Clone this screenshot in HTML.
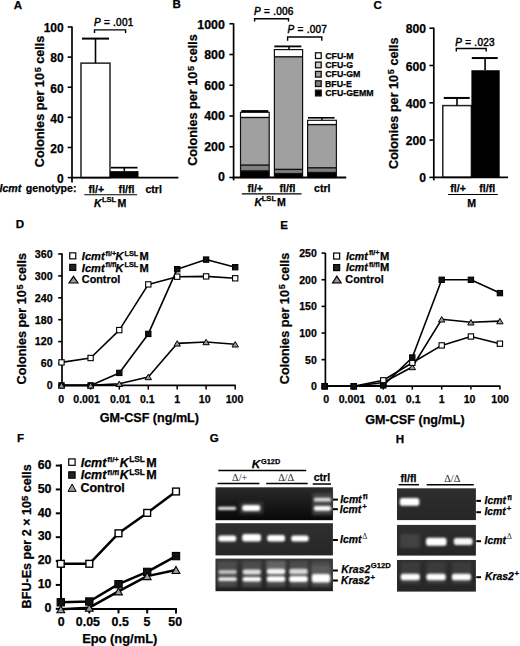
<!DOCTYPE html>
<html><head><meta charset="utf-8"><style>
html,body{margin:0;padding:0;background:#fff;}
svg{display:block;}
text{font-family:"Liberation Sans", sans-serif;stroke:#000;stroke-width:0.25px;}
</style></head><body>
<svg width="520" height="646" viewBox="0 0 520 646">
<defs>
<filter id="bl" x="-30%" y="-150%" width="160%" height="400%"><feGaussianBlur stdDeviation="0.85"/></filter>
<filter id="bl3" x="-30%" y="-30%" width="160%" height="160%"><feGaussianBlur stdDeviation="1.8"/></filter>
</defs>
<rect width="520" height="646" fill="#fff"/>
<text x="13.71" y="9.10" font-size="11.6" font-weight="bold" fill="#000" >A</text>
<line x1="72.00" y1="26.50" x2="72.00" y2="182.60" stroke="#000" stroke-width="1.7" stroke-linecap="butt"/>
<line x1="67.70" y1="177.60" x2="72.00" y2="177.60" stroke="#000" stroke-width="1.6" stroke-linecap="butt"/>
<text x="57.02" y="182.90" font-size="12.0" font-weight="bold" fill="#000">0</text>
<line x1="67.70" y1="147.48" x2="72.00" y2="147.48" stroke="#000" stroke-width="1.6" stroke-linecap="butt"/>
<text x="50.34" y="152.78" font-size="12.0" font-weight="bold" fill="#000">20</text>
<line x1="67.70" y1="117.36" x2="72.00" y2="117.36" stroke="#000" stroke-width="1.6" stroke-linecap="butt"/>
<text x="50.34" y="122.66" font-size="12.0" font-weight="bold" fill="#000">40</text>
<line x1="67.70" y1="87.24" x2="72.00" y2="87.24" stroke="#000" stroke-width="1.6" stroke-linecap="butt"/>
<text x="50.34" y="92.54" font-size="12.0" font-weight="bold" fill="#000">60</text>
<line x1="67.70" y1="57.12" x2="72.00" y2="57.12" stroke="#000" stroke-width="1.6" stroke-linecap="butt"/>
<text x="50.34" y="62.42" font-size="12.0" font-weight="bold" fill="#000">80</text>
<line x1="67.70" y1="27.00" x2="72.00" y2="27.00" stroke="#000" stroke-width="1.6" stroke-linecap="butt"/>
<text x="43.67" y="32.30" font-size="12.0" font-weight="bold" fill="#000">100</text>
<text transform="translate(44.00,167.20) rotate(-90)" x="0" y="0" font-size="12.65" font-weight="bold">Colonies per 10<tspan font-size="9.11" dy="-3.16" dx="0.7">5</tspan><tspan dy="3.16"> cells</tspan></text>
<rect x="81.00" y="63.14" width="29.00" height="114.46" fill="#fff" stroke="#222" stroke-width="1.5" />
<line x1="95.50" y1="38.60" x2="95.50" y2="63.14" stroke="#000" stroke-width="1.6" stroke-linecap="butt"/>
<line x1="82.00" y1="38.60" x2="109.00" y2="38.60" stroke="#000" stroke-width="2.0" stroke-linecap="butt"/>
<rect x="110.00" y="171.12" width="28.50" height="6.48" fill="#000" stroke="none" stroke-width="1" />
<line x1="124.30" y1="167.66" x2="124.30" y2="171.12" stroke="#000" stroke-width="1.5" stroke-linecap="butt"/>
<line x1="111.00" y1="167.66" x2="137.50" y2="167.66" stroke="#000" stroke-width="1.7" stroke-linecap="butt"/>
<line x1="71.20" y1="177.60" x2="178.40" y2="177.60" stroke="#000" stroke-width="1.8" stroke-linecap="butt"/>
<path d="M94.50,33.00 V29.90 H125.60 V33.00" stroke="#000" stroke-width="1.4" fill="none" />
<text x="94.00" y="25.80" font-size="10.0" font-weight="normal" letter-spacing="0.25" style="stroke-width:0.45px"><tspan font-style="italic">P</tspan> = .001</text>
<text x="88.52" y="192.80" font-size="10.6" font-weight="bold" fill="#000" >fl/+</text>
<text x="118.62" y="192.80" font-size="10.6" font-weight="bold" fill="#000" >fl/fl</text>
<text x="145.39" y="192.80" font-size="10.6" font-weight="bold" fill="#000" >ctrl</text>
<line x1="84.30" y1="194.80" x2="137.10" y2="194.80" stroke="#000" stroke-width="1.1" stroke-linecap="butt"/>
<text x="94.01" y="207.30" font-size="10.6" font-weight="bold" font-style="italic" fill="#000" >K</text>
<text x="101.89" y="202.40" font-size="7.6" font-weight="bold" fill="#000" >LSL</text>
<text x="117.39" y="207.30" font-size="10.6" font-weight="bold" fill="#000" >M</text>
<text x="-0.49" y="192.00" font-size="10.6" font-weight="bold" font-style="italic" fill="#000" >Icmt</text>
<text x="25.87" y="192.00" font-size="10.6" font-weight="bold" fill="#000" >genotype:</text>
<text x="172.62" y="8.40" font-size="11.6" font-weight="bold" fill="#000" >B</text>
<line x1="233.60" y1="23.30" x2="233.60" y2="180.40" stroke="#000" stroke-width="1.7" stroke-linecap="butt"/>
<line x1="229.40" y1="177.50" x2="233.60" y2="177.50" stroke="#000" stroke-width="1.6" stroke-linecap="butt"/>
<text x="218.01" y="181.24" font-size="12.4" font-weight="bold" fill="#000">0</text>
<line x1="229.40" y1="146.75" x2="233.60" y2="146.75" stroke="#000" stroke-width="1.6" stroke-linecap="butt"/>
<text x="204.22" y="150.78" font-size="12.4" font-weight="bold" fill="#000">200</text>
<line x1="229.40" y1="116.00" x2="233.60" y2="116.00" stroke="#000" stroke-width="1.6" stroke-linecap="butt"/>
<text x="204.22" y="120.32" font-size="12.4" font-weight="bold" fill="#000">400</text>
<line x1="229.40" y1="85.25" x2="233.60" y2="85.25" stroke="#000" stroke-width="1.6" stroke-linecap="butt"/>
<text x="204.22" y="89.86" font-size="12.4" font-weight="bold" fill="#000">600</text>
<line x1="229.40" y1="54.50" x2="233.60" y2="54.50" stroke="#000" stroke-width="1.6" stroke-linecap="butt"/>
<text x="204.22" y="59.40" font-size="12.4" font-weight="bold" fill="#000">800</text>
<line x1="229.40" y1="23.75" x2="233.60" y2="23.75" stroke="#000" stroke-width="1.6" stroke-linecap="butt"/>
<text x="197.32" y="28.94" font-size="12.4" font-weight="bold" fill="#000">1000</text>
<text transform="translate(196.90,165.80) rotate(-90)" x="0" y="0" font-size="12.65" font-weight="bold">Colonies per 10<tspan font-size="9.11" dy="-3.16" dx="0.7">5</tspan><tspan dy="3.16"> cells</tspan></text>
<rect x="240.50" y="170.90" width="28.70" height="6.60" fill="#000000" stroke="none" stroke-width="1" />
<rect x="240.50" y="165.10" width="28.70" height="5.80" fill="#808080" stroke="none" stroke-width="1" />
<rect x="240.50" y="117.50" width="28.70" height="47.60" fill="#a0a0a0" stroke="none" stroke-width="1" />
<rect x="240.50" y="112.30" width="28.70" height="5.20" fill="#ffffff" stroke="none" stroke-width="1" />
<line x1="240.50" y1="170.90" x2="269.20" y2="170.90" stroke="#111" stroke-width="1.4" stroke-linecap="butt"/>
<line x1="240.50" y1="165.10" x2="269.20" y2="165.10" stroke="#111" stroke-width="1.4" stroke-linecap="butt"/>
<line x1="240.50" y1="117.50" x2="269.20" y2="117.50" stroke="#111" stroke-width="1.4" stroke-linecap="butt"/>
<rect x="240.50" y="112.30" width="28.70" height="65.20" fill="none" stroke="#111" stroke-width="1.2" />
<line x1="241.30" y1="111.10" x2="268.30" y2="111.10" stroke="#000" stroke-width="2.0" stroke-linecap="butt"/>
<rect x="274.40" y="173.60" width="28.20" height="3.90" fill="#000000" stroke="none" stroke-width="1" />
<rect x="274.40" y="169.40" width="28.20" height="4.20" fill="#808080" stroke="none" stroke-width="1" />
<rect x="274.40" y="56.80" width="28.20" height="112.60" fill="#a0a0a0" stroke="none" stroke-width="1" />
<rect x="274.40" y="49.60" width="28.20" height="7.20" fill="#ffffff" stroke="none" stroke-width="1" />
<line x1="274.40" y1="173.60" x2="302.60" y2="173.60" stroke="#111" stroke-width="1.4" stroke-linecap="butt"/>
<line x1="274.40" y1="169.40" x2="302.60" y2="169.40" stroke="#111" stroke-width="1.4" stroke-linecap="butt"/>
<line x1="274.40" y1="56.80" x2="302.60" y2="56.80" stroke="#111" stroke-width="1.4" stroke-linecap="butt"/>
<rect x="274.40" y="49.60" width="28.20" height="127.90" fill="none" stroke="#111" stroke-width="1.2" />
<line x1="289.00" y1="46.40" x2="289.00" y2="49.80" stroke="#000" stroke-width="1.5" stroke-linecap="butt"/>
<line x1="274.30" y1="46.40" x2="301.30" y2="46.40" stroke="#000" stroke-width="1.8" stroke-linecap="butt"/>
<rect x="307.60" y="172.50" width="28.80" height="5.00" fill="#000000" stroke="none" stroke-width="1" />
<rect x="307.60" y="167.80" width="28.80" height="4.70" fill="#808080" stroke="none" stroke-width="1" />
<rect x="307.60" y="124.60" width="28.80" height="43.20" fill="#a0a0a0" stroke="none" stroke-width="1" />
<rect x="307.60" y="120.30" width="28.80" height="4.30" fill="#ffffff" stroke="none" stroke-width="1" />
<line x1="307.60" y1="172.50" x2="336.40" y2="172.50" stroke="#111" stroke-width="1.4" stroke-linecap="butt"/>
<line x1="307.60" y1="167.80" x2="336.40" y2="167.80" stroke="#111" stroke-width="1.4" stroke-linecap="butt"/>
<line x1="307.60" y1="124.60" x2="336.40" y2="124.60" stroke="#111" stroke-width="1.4" stroke-linecap="butt"/>
<rect x="307.60" y="120.30" width="28.80" height="57.20" fill="none" stroke="#111" stroke-width="1.2" />
<line x1="322.00" y1="117.80" x2="322.00" y2="120.30" stroke="#000" stroke-width="1.4" stroke-linecap="butt"/>
<line x1="308.00" y1="117.80" x2="334.60" y2="117.80" stroke="#000" stroke-width="1.6" stroke-linecap="butt"/>
<line x1="232.80" y1="177.50" x2="346.20" y2="177.50" stroke="#000" stroke-width="1.8" stroke-linecap="butt"/>
<path d="M254.60,21.60 V18.80 H288.50 V21.60" stroke="#000" stroke-width="1.4" fill="none" />
<path d="M287.60,40.80 V37.00 H321.80 V40.80" stroke="#000" stroke-width="1.4" fill="none" />
<text x="254.10" y="15.40" font-size="10.0" font-weight="normal" letter-spacing="0.25" style="stroke-width:0.45px"><tspan font-style="italic">P</tspan> = .006</text>
<text x="287.60" y="33.30" font-size="10.0" font-weight="normal" letter-spacing="0.25" style="stroke-width:0.45px"><tspan font-style="italic">P</tspan> = .007</text>
<rect x="315.50" y="52.80" width="5.70" height="5.70" fill="#ffffff" stroke="#111" stroke-width="1.3" />
<text x="325.24" y="58.70" font-size="8.8" font-weight="bold" fill="#000" >CFU-M</text>
<rect x="315.50" y="62.10" width="5.70" height="5.70" fill="#cccccc" stroke="#111" stroke-width="1.3" />
<text x="325.24" y="68.00" font-size="8.8" font-weight="bold" fill="#000" >CFU-G</text>
<rect x="315.50" y="71.40" width="5.70" height="5.70" fill="#a0a0a0" stroke="#111" stroke-width="1.3" />
<text x="325.24" y="77.30" font-size="8.8" font-weight="bold" fill="#000" >CFU-GM</text>
<rect x="315.50" y="80.80" width="5.70" height="5.70" fill="#808080" stroke="#111" stroke-width="1.3" />
<text x="325.01" y="86.70" font-size="8.8" font-weight="bold" fill="#000" >BFU-E</text>
<rect x="315.50" y="90.20" width="5.70" height="5.70" fill="#000000" stroke="#111" stroke-width="1.3" />
<text x="325.24" y="96.10" font-size="8.8" font-weight="bold" fill="#000" >CFU-GEMM</text>
<text x="247.42" y="191.60" font-size="10.6" font-weight="bold" fill="#000" >fl/+</text>
<text x="279.52" y="191.60" font-size="10.6" font-weight="bold" fill="#000" >fl/fl</text>
<text x="313.99" y="191.60" font-size="10.6" font-weight="bold" fill="#000" >ctrl</text>
<line x1="241.80" y1="193.90" x2="301.50" y2="193.90" stroke="#000" stroke-width="1.1" stroke-linecap="butt"/>
<text x="254.51" y="205.90" font-size="10.6" font-weight="bold" font-style="italic" fill="#000" >K</text>
<text x="261.69" y="201.00" font-size="7.6" font-weight="bold" fill="#000" >LSL</text>
<text x="277.09" y="205.90" font-size="10.6" font-weight="bold" fill="#000" >M</text>
<text x="373.52" y="9.30" font-size="11.6" font-weight="bold" fill="#000" >C</text>
<line x1="433.80" y1="27.60" x2="433.80" y2="180.40" stroke="#000" stroke-width="1.7" stroke-linecap="butt"/>
<line x1="429.40" y1="177.40" x2="433.80" y2="177.40" stroke="#000" stroke-width="1.6" stroke-linecap="butt"/>
<text x="419.32" y="182.47" font-size="12.2" font-weight="bold" fill="#000">0</text>
<line x1="429.40" y1="140.10" x2="433.80" y2="140.10" stroke="#000" stroke-width="1.6" stroke-linecap="butt"/>
<text x="405.75" y="145.17" font-size="12.2" font-weight="bold" fill="#000">200</text>
<line x1="429.40" y1="102.80" x2="433.80" y2="102.80" stroke="#000" stroke-width="1.6" stroke-linecap="butt"/>
<text x="405.75" y="107.87" font-size="12.2" font-weight="bold" fill="#000">400</text>
<line x1="429.40" y1="65.50" x2="433.80" y2="65.50" stroke="#000" stroke-width="1.6" stroke-linecap="butt"/>
<text x="405.75" y="70.57" font-size="12.2" font-weight="bold" fill="#000">600</text>
<line x1="429.40" y1="28.20" x2="433.80" y2="28.20" stroke="#000" stroke-width="1.6" stroke-linecap="butt"/>
<text x="405.75" y="33.27" font-size="12.2" font-weight="bold" fill="#000">800</text>
<text transform="translate(397.60,169.00) rotate(-90)" x="0" y="0" font-size="12.65" font-weight="bold">Colonies per 10<tspan font-size="9.11" dy="-3.16" dx="0.7">5</tspan><tspan dy="3.16"> cells</tspan></text>
<rect x="442.80" y="105.60" width="28.60" height="71.80" fill="#fff" stroke="#222" stroke-width="1.5" />
<line x1="457.00" y1="97.95" x2="457.00" y2="105.60" stroke="#000" stroke-width="1.6" stroke-linecap="butt"/>
<line x1="443.80" y1="97.95" x2="469.70" y2="97.95" stroke="#000" stroke-width="2.0" stroke-linecap="butt"/>
<rect x="471.40" y="70.24" width="28.30" height="107.16" fill="#000" stroke="none" stroke-width="1" />
<line x1="485.10" y1="58.04" x2="485.10" y2="70.24" stroke="#000" stroke-width="1.6" stroke-linecap="butt"/>
<line x1="471.80" y1="58.04" x2="497.70" y2="58.04" stroke="#000" stroke-width="2.0" stroke-linecap="butt"/>
<line x1="433.00" y1="177.40" x2="508.00" y2="177.40" stroke="#000" stroke-width="1.8" stroke-linecap="butt"/>
<path d="M456.30,51.50 V48.50 H486.20 V51.50" stroke="#000" stroke-width="1.4" fill="none" />
<text x="455.30" y="46.20" font-size="10.0" font-weight="normal" letter-spacing="0.25" style="stroke-width:0.45px"><tspan font-style="italic">P</tspan> = .023</text>
<text x="450.32" y="192.00" font-size="10.6" font-weight="bold" fill="#000" >fl/+</text>
<text x="479.22" y="192.00" font-size="10.6" font-weight="bold" fill="#000" >fl/fl</text>
<line x1="448.10" y1="194.50" x2="497.90" y2="194.50" stroke="#000" stroke-width="1.1" stroke-linecap="butt"/>
<text x="467.29" y="207.30" font-size="10.6" font-weight="bold" fill="#000" >M</text>
<text x="15.72" y="228.30" font-size="11.6" font-weight="bold" fill="#000" >D</text>
<line x1="62.00" y1="253.20" x2="62.00" y2="386.20" stroke="#000" stroke-width="1.7" stroke-linecap="butt"/>
<line x1="58.20" y1="385.40" x2="62.00" y2="385.40" stroke="#000" stroke-width="1.6" stroke-linecap="butt"/>
<text x="46.69" y="389.23" font-size="10.7" font-weight="bold" fill="#000">0</text>
<line x1="58.20" y1="363.50" x2="62.00" y2="363.50" stroke="#000" stroke-width="1.6" stroke-linecap="butt"/>
<text x="40.74" y="367.33" font-size="10.7" font-weight="bold" fill="#000">60</text>
<line x1="58.20" y1="341.60" x2="62.00" y2="341.60" stroke="#000" stroke-width="1.6" stroke-linecap="butt"/>
<text x="34.79" y="345.43" font-size="10.7" font-weight="bold" fill="#000">120</text>
<line x1="58.20" y1="319.70" x2="62.00" y2="319.70" stroke="#000" stroke-width="1.6" stroke-linecap="butt"/>
<text x="34.79" y="323.53" font-size="10.7" font-weight="bold" fill="#000">180</text>
<line x1="58.20" y1="297.80" x2="62.00" y2="297.80" stroke="#000" stroke-width="1.6" stroke-linecap="butt"/>
<text x="34.79" y="301.63" font-size="10.7" font-weight="bold" fill="#000">240</text>
<line x1="58.20" y1="275.90" x2="62.00" y2="275.90" stroke="#000" stroke-width="1.6" stroke-linecap="butt"/>
<text x="34.79" y="279.73" font-size="10.7" font-weight="bold" fill="#000">300</text>
<line x1="58.20" y1="254.00" x2="62.00" y2="254.00" stroke="#000" stroke-width="1.6" stroke-linecap="butt"/>
<text x="34.79" y="257.83" font-size="10.7" font-weight="bold" fill="#000">360</text>
<text transform="translate(25.80,384.40) rotate(-90)" x="0" y="0" font-size="12.65" font-weight="bold">Colonies per 10<tspan font-size="9.11" dy="-3.16" dx="0.7">5</tspan><tspan dy="3.16"> cells</tspan></text>
<line x1="61.20" y1="385.40" x2="235.80" y2="385.40" stroke="#000" stroke-width="1.7" stroke-linecap="butt"/>
<line x1="90.60" y1="385.40" x2="90.60" y2="389.60" stroke="#000" stroke-width="1.5" stroke-linecap="butt"/>
<line x1="119.30" y1="385.40" x2="119.30" y2="389.60" stroke="#000" stroke-width="1.5" stroke-linecap="butt"/>
<line x1="148.30" y1="385.40" x2="148.30" y2="389.60" stroke="#000" stroke-width="1.5" stroke-linecap="butt"/>
<line x1="177.20" y1="385.40" x2="177.20" y2="389.60" stroke="#000" stroke-width="1.5" stroke-linecap="butt"/>
<line x1="206.10" y1="385.40" x2="206.10" y2="389.60" stroke="#000" stroke-width="1.5" stroke-linecap="butt"/>
<line x1="235.20" y1="385.40" x2="235.20" y2="389.60" stroke="#000" stroke-width="1.5" stroke-linecap="butt"/>
<text x="58.36" y="402.50" font-size="10.6" font-weight="bold" fill="#000">0</text>
<text x="73.27" y="402.50" font-size="10.6" font-weight="bold" fill="#000">0.001</text>
<text x="110.12" y="402.50" font-size="10.6" font-weight="bold" fill="#000">0.01</text>
<text x="139.97" y="402.50" font-size="10.6" font-weight="bold" fill="#000">0.1</text>
<text x="174.17" y="402.50" font-size="10.6" font-weight="bold" fill="#000">1</text>
<text x="198.79" y="402.50" font-size="10.6" font-weight="bold" fill="#000">10</text>
<text x="225.64" y="402.50" font-size="10.6" font-weight="bold" fill="#000">100</text>
<text x="99.68" y="422.20" font-size="12.6" font-weight="bold" fill="#000" >GM-CSF (ng/mL)</text>
<path d="M61.50,385.40 L90.60,385.40 L119.30,383.80 L148.30,377.00 L177.20,343.40 L206.10,342.00 L235.20,344.30" stroke="#000" stroke-width="1.6" fill="none" stroke-linejoin="round"/>
<path d="M61.50,385.40 L90.60,385.40 L119.30,372.90 L148.30,333.90 L177.20,269.20 L206.10,259.60 L235.20,267.20" stroke="#000" stroke-width="1.6" fill="none" stroke-linejoin="round"/>
<path d="M61.50,362.40 L90.60,358.00 L119.30,330.10 L148.30,284.40 L177.20,276.70 L206.10,276.40 L235.20,278.30" stroke="#000" stroke-width="1.6" fill="none" stroke-linejoin="round"/>
<rect x="58.85" y="382.75" width="5.30" height="5.30" fill="#111" stroke="#000" stroke-width="1.1" />
<rect x="87.95" y="382.75" width="5.30" height="5.30" fill="#111" stroke="#000" stroke-width="1.1" />
<rect x="116.65" y="370.25" width="5.30" height="5.30" fill="#111" stroke="#000" stroke-width="1.1" />
<rect x="145.65" y="331.25" width="5.30" height="5.30" fill="#111" stroke="#000" stroke-width="1.1" />
<rect x="174.55" y="266.55" width="5.30" height="5.30" fill="#111" stroke="#000" stroke-width="1.1" />
<rect x="203.45" y="256.95" width="5.30" height="5.30" fill="#111" stroke="#000" stroke-width="1.1" />
<rect x="232.55" y="264.55" width="5.30" height="5.30" fill="#111" stroke="#000" stroke-width="1.1" />
<rect x="58.85" y="359.75" width="5.30" height="5.30" fill="#fff" stroke="#000" stroke-width="1.1" />
<rect x="87.95" y="355.35" width="5.30" height="5.30" fill="#fff" stroke="#000" stroke-width="1.1" />
<rect x="116.65" y="327.45" width="5.30" height="5.30" fill="#fff" stroke="#000" stroke-width="1.1" />
<rect x="145.65" y="281.75" width="5.30" height="5.30" fill="#fff" stroke="#000" stroke-width="1.1" />
<rect x="174.55" y="274.05" width="5.30" height="5.30" fill="#fff" stroke="#000" stroke-width="1.1" />
<rect x="203.45" y="273.75" width="5.30" height="5.30" fill="#fff" stroke="#000" stroke-width="1.1" />
<rect x="232.55" y="275.65" width="5.30" height="5.30" fill="#fff" stroke="#000" stroke-width="1.1" />
<path d="M61.50,382.70 L64.70,388.10 L58.30,388.10 Z" fill="#9a9a9a" stroke="#000" stroke-width="1.0" stroke-linejoin="miter"/>
<path d="M90.60,382.70 L93.80,388.10 L87.40,388.10 Z" fill="#9a9a9a" stroke="#000" stroke-width="1.0" stroke-linejoin="miter"/>
<path d="M119.30,381.10 L122.50,386.50 L116.10,386.50 Z" fill="#9a9a9a" stroke="#000" stroke-width="1.0" stroke-linejoin="miter"/>
<path d="M148.30,374.30 L151.50,379.70 L145.10,379.70 Z" fill="#9a9a9a" stroke="#000" stroke-width="1.0" stroke-linejoin="miter"/>
<path d="M177.20,340.70 L180.40,346.10 L174.00,346.10 Z" fill="#9a9a9a" stroke="#000" stroke-width="1.0" stroke-linejoin="miter"/>
<path d="M206.10,339.30 L209.30,344.70 L202.90,344.70 Z" fill="#9a9a9a" stroke="#000" stroke-width="1.0" stroke-linejoin="miter"/>
<path d="M235.20,341.60 L238.40,347.00 L232.00,347.00 Z" fill="#9a9a9a" stroke="#000" stroke-width="1.0" stroke-linejoin="miter"/>
<rect x="69.75" y="252.85" width="6.00" height="6.00" fill="#fff" stroke="#000" stroke-width="1.2" />
<rect x="69.75" y="264.40" width="6.00" height="6.00" fill="#222" stroke="#000" stroke-width="1.2" />
<path d="M73.50,276.40 L78.00,283.00 L69.00,283.00 Z" fill="#9a9a9a" stroke="#000" stroke-width="1.2" stroke-linejoin="miter"/>
<text x="81.80" y="259.90" font-size="11.1" font-weight="bold" font-style="italic" fill="#000" >Icmt</text>
<text x="105.48" y="255.50" font-size="7.3" font-weight="bold" fill="#000" >fl/+</text>
<text x="115.60" y="259.90" font-size="11.1" font-weight="bold" font-style="italic" fill="#000" >K</text>
<text x="124.51" y="255.50" font-size="7.3" font-weight="bold" fill="#000" >LSL</text>
<text x="139.56" y="259.90" font-size="11.1" font-weight="bold" fill="#000" >M</text>
<text x="81.80" y="271.50" font-size="11.1" font-weight="bold" font-style="italic" fill="#000" >Icmt</text>
<text x="105.48" y="267.10" font-size="7.3" font-weight="bold" fill="#000" >fl/fl</text>
<text x="115.60" y="271.50" font-size="11.1" font-weight="bold" font-style="italic" fill="#000" >K</text>
<text x="124.51" y="267.10" font-size="7.3" font-weight="bold" fill="#000" >LSL</text>
<text x="139.56" y="271.50" font-size="11.1" font-weight="bold" fill="#000" >M</text>
<text x="81.86" y="283.20" font-size="10.8" font-weight="bold" fill="#000" >Control</text>
<text x="280.22" y="228.80" font-size="11.6" font-weight="bold" fill="#000" >E</text>
<line x1="325.40" y1="253.00" x2="325.40" y2="387.00" stroke="#000" stroke-width="1.7" stroke-linecap="butt"/>
<line x1="321.60" y1="386.30" x2="325.40" y2="386.30" stroke="#000" stroke-width="1.6" stroke-linecap="butt"/>
<text x="310.89" y="390.36" font-size="10.5" font-weight="bold" fill="#000">0</text>
<line x1="321.60" y1="359.66" x2="325.40" y2="359.66" stroke="#000" stroke-width="1.6" stroke-linecap="butt"/>
<text x="305.05" y="363.72" font-size="10.5" font-weight="bold" fill="#000">50</text>
<line x1="321.60" y1="333.02" x2="325.40" y2="333.02" stroke="#000" stroke-width="1.6" stroke-linecap="butt"/>
<text x="299.21" y="337.08" font-size="10.5" font-weight="bold" fill="#000">100</text>
<line x1="321.60" y1="306.38" x2="325.40" y2="306.38" stroke="#000" stroke-width="1.6" stroke-linecap="butt"/>
<text x="299.21" y="310.44" font-size="10.5" font-weight="bold" fill="#000">150</text>
<line x1="321.60" y1="279.74" x2="325.40" y2="279.74" stroke="#000" stroke-width="1.6" stroke-linecap="butt"/>
<text x="299.21" y="283.80" font-size="10.5" font-weight="bold" fill="#000">200</text>
<line x1="321.60" y1="253.10" x2="325.40" y2="253.10" stroke="#000" stroke-width="1.6" stroke-linecap="butt"/>
<text x="299.21" y="257.16" font-size="10.5" font-weight="bold" fill="#000">250</text>
<text transform="translate(288.60,384.20) rotate(-90)" x="0" y="0" font-size="12.65" font-weight="bold">Colonies per 10<tspan font-size="9.11" dy="-3.16" dx="0.7">5</tspan><tspan dy="3.16"> cells</tspan></text>
<line x1="324.60" y1="386.20" x2="500.50" y2="386.20" stroke="#000" stroke-width="1.7" stroke-linecap="butt"/>
<line x1="353.80" y1="386.20" x2="353.80" y2="389.60" stroke="#000" stroke-width="1.5" stroke-linecap="butt"/>
<line x1="383.30" y1="386.20" x2="383.30" y2="389.60" stroke="#000" stroke-width="1.5" stroke-linecap="butt"/>
<line x1="412.30" y1="386.20" x2="412.30" y2="389.60" stroke="#000" stroke-width="1.5" stroke-linecap="butt"/>
<line x1="441.70" y1="386.20" x2="441.70" y2="389.60" stroke="#000" stroke-width="1.5" stroke-linecap="butt"/>
<line x1="470.90" y1="386.20" x2="470.90" y2="389.60" stroke="#000" stroke-width="1.5" stroke-linecap="butt"/>
<line x1="499.90" y1="386.20" x2="499.90" y2="389.60" stroke="#000" stroke-width="1.5" stroke-linecap="butt"/>
<text x="323.26" y="403.30" font-size="10.6" font-weight="bold" fill="#000">0</text>
<text x="338.67" y="403.30" font-size="10.6" font-weight="bold" fill="#000">0.001</text>
<text x="375.42" y="403.30" font-size="10.6" font-weight="bold" fill="#000">0.01</text>
<text x="405.87" y="403.30" font-size="10.6" font-weight="bold" fill="#000">0.1</text>
<text x="438.87" y="403.30" font-size="10.6" font-weight="bold" fill="#000">1</text>
<text x="463.69" y="403.30" font-size="10.6" font-weight="bold" fill="#000">10</text>
<text x="491.34" y="403.30" font-size="10.6" font-weight="bold" fill="#000">100</text>
<text x="365.28" y="423.90" font-size="12.6" font-weight="bold" fill="#000" >GM-CSF (ng/mL)</text>
<path d="M324.70,386.20 L353.80,386.20 L383.30,382.50 L412.30,367.00 L441.70,319.30 L470.90,322.30 L499.90,321.10" stroke="#000" stroke-width="1.6" fill="none" stroke-linejoin="round"/>
<path d="M324.70,386.20 L353.80,386.20 L383.30,380.30 L412.30,362.80 L441.70,345.40 L470.90,336.50 L499.90,343.70" stroke="#000" stroke-width="1.6" fill="none" stroke-linejoin="round"/>
<path d="M324.70,386.20 L353.80,386.20 L383.30,385.40 L412.30,357.50 L441.70,279.80 L470.90,279.80 L499.90,293.10" stroke="#000" stroke-width="1.6" fill="none" stroke-linejoin="round"/>
<path d="M324.70,383.50 L327.90,388.90 L321.50,388.90 Z" fill="#9a9a9a" stroke="#000" stroke-width="1.0" stroke-linejoin="miter"/>
<path d="M353.80,383.50 L357.00,388.90 L350.60,388.90 Z" fill="#9a9a9a" stroke="#000" stroke-width="1.0" stroke-linejoin="miter"/>
<path d="M383.30,379.80 L386.50,385.20 L380.10,385.20 Z" fill="#9a9a9a" stroke="#000" stroke-width="1.0" stroke-linejoin="miter"/>
<path d="M412.30,364.30 L415.50,369.70 L409.10,369.70 Z" fill="#9a9a9a" stroke="#000" stroke-width="1.0" stroke-linejoin="miter"/>
<path d="M441.70,316.60 L444.90,322.00 L438.50,322.00 Z" fill="#9a9a9a" stroke="#000" stroke-width="1.0" stroke-linejoin="miter"/>
<path d="M470.90,319.60 L474.10,325.00 L467.70,325.00 Z" fill="#9a9a9a" stroke="#000" stroke-width="1.0" stroke-linejoin="miter"/>
<path d="M499.90,318.40 L503.10,323.80 L496.70,323.80 Z" fill="#9a9a9a" stroke="#000" stroke-width="1.0" stroke-linejoin="miter"/>
<rect x="322.05" y="383.55" width="5.30" height="5.30" fill="#fff" stroke="#000" stroke-width="1.1" />
<rect x="351.15" y="383.55" width="5.30" height="5.30" fill="#fff" stroke="#000" stroke-width="1.1" />
<rect x="380.65" y="377.65" width="5.30" height="5.30" fill="#fff" stroke="#000" stroke-width="1.1" />
<rect x="409.65" y="360.15" width="5.30" height="5.30" fill="#fff" stroke="#000" stroke-width="1.1" />
<rect x="439.05" y="342.75" width="5.30" height="5.30" fill="#fff" stroke="#000" stroke-width="1.1" />
<rect x="468.25" y="333.85" width="5.30" height="5.30" fill="#fff" stroke="#000" stroke-width="1.1" />
<rect x="497.25" y="341.05" width="5.30" height="5.30" fill="#fff" stroke="#000" stroke-width="1.1" />
<rect x="322.05" y="383.55" width="5.30" height="5.30" fill="#111" stroke="#000" stroke-width="1.1" />
<rect x="351.15" y="383.55" width="5.30" height="5.30" fill="#111" stroke="#000" stroke-width="1.1" />
<rect x="380.65" y="382.75" width="5.30" height="5.30" fill="#111" stroke="#000" stroke-width="1.1" />
<rect x="409.65" y="354.85" width="5.30" height="5.30" fill="#111" stroke="#000" stroke-width="1.1" />
<rect x="439.05" y="277.15" width="5.30" height="5.30" fill="#111" stroke="#000" stroke-width="1.1" />
<rect x="468.25" y="277.15" width="5.30" height="5.30" fill="#111" stroke="#000" stroke-width="1.1" />
<rect x="497.25" y="290.45" width="5.30" height="5.30" fill="#111" stroke="#000" stroke-width="1.1" />
<rect x="333.65" y="253.05" width="6.00" height="6.00" fill="#fff" stroke="#000" stroke-width="1.2" />
<rect x="333.65" y="264.60" width="6.00" height="6.00" fill="#222" stroke="#000" stroke-width="1.2" />
<path d="M336.85,276.20 L341.15,282.80 L332.55,282.80 Z" fill="#9a9a9a" stroke="#000" stroke-width="1.2" stroke-linejoin="miter"/>
<text x="346.01" y="259.60" font-size="10.6" font-weight="bold" font-style="italic" fill="#000" >Icmt</text>
<text x="368.88" y="255.00" font-size="7.2" font-weight="bold" fill="#000" >fl/+</text>
<text x="380.05" y="259.60" font-size="11.2" font-weight="bold" fill="#000" >M</text>
<text x="346.01" y="271.20" font-size="10.6" font-weight="bold" font-style="italic" fill="#000" >Icmt</text>
<text x="368.88" y="266.60" font-size="7.2" font-weight="bold" fill="#000" >fl/fl</text>
<text x="380.05" y="271.20" font-size="11.2" font-weight="bold" fill="#000" >M</text>
<text x="345.36" y="283.20" font-size="10.8" font-weight="bold" fill="#000" >Control</text>
<text x="17.12" y="442.40" font-size="11.6" font-weight="bold" fill="#000" >F</text>
<line x1="61.00" y1="464.20" x2="61.00" y2="613.00" stroke="#000" stroke-width="2.0" stroke-linecap="butt"/>
<line x1="55.80" y1="608.80" x2="61.00" y2="608.80" stroke="#000" stroke-width="2.0" stroke-linecap="butt"/>
<text x="44.61" y="612.04" font-size="12.4" font-weight="bold" fill="#000">0</text>
<line x1="55.80" y1="584.93" x2="61.00" y2="584.93" stroke="#000" stroke-width="2.0" stroke-linecap="butt"/>
<text x="37.72" y="588.17" font-size="12.4" font-weight="bold" fill="#000">10</text>
<line x1="55.80" y1="561.06" x2="61.00" y2="561.06" stroke="#000" stroke-width="2.0" stroke-linecap="butt"/>
<text x="37.72" y="564.30" font-size="12.4" font-weight="bold" fill="#000">20</text>
<line x1="55.80" y1="537.19" x2="61.00" y2="537.19" stroke="#000" stroke-width="2.0" stroke-linecap="butt"/>
<text x="37.72" y="540.43" font-size="12.4" font-weight="bold" fill="#000">30</text>
<line x1="55.80" y1="513.32" x2="61.00" y2="513.32" stroke="#000" stroke-width="2.0" stroke-linecap="butt"/>
<text x="37.72" y="516.56" font-size="12.4" font-weight="bold" fill="#000">40</text>
<line x1="55.80" y1="489.45" x2="61.00" y2="489.45" stroke="#000" stroke-width="2.0" stroke-linecap="butt"/>
<text x="37.72" y="492.69" font-size="12.4" font-weight="bold" fill="#000">50</text>
<line x1="55.80" y1="465.58" x2="61.00" y2="465.58" stroke="#000" stroke-width="2.0" stroke-linecap="butt"/>
<text x="37.72" y="468.82" font-size="12.4" font-weight="bold" fill="#000">60</text>
<text transform="translate(31.4,608.4) rotate(-90)" x="0" y="0" font-size="12.6" font-weight="bold">BFU-Es per 2 × 10<tspan font-size="9.5" dy="-3.4">5</tspan><tspan dy="3.4"> cells</tspan></text>
<line x1="60.00" y1="609.00" x2="177.00" y2="609.00" stroke="#000" stroke-width="2.2" stroke-linecap="butt"/>
<line x1="89.30" y1="609.00" x2="89.30" y2="613.40" stroke="#000" stroke-width="2.0" stroke-linecap="butt"/>
<line x1="118.50" y1="609.00" x2="118.50" y2="613.40" stroke="#000" stroke-width="2.0" stroke-linecap="butt"/>
<line x1="147.20" y1="609.00" x2="147.20" y2="613.40" stroke="#000" stroke-width="2.0" stroke-linecap="butt"/>
<line x1="176.00" y1="609.00" x2="176.00" y2="613.40" stroke="#000" stroke-width="2.0" stroke-linecap="butt"/>
<text x="57.66" y="625.90" font-size="12.4" font-weight="bold" fill="#000">0</text>
<text x="75.86" y="625.90" font-size="12.4" font-weight="bold" fill="#000">0.05</text>
<text x="111.61" y="625.90" font-size="12.4" font-weight="bold" fill="#000">0.5</text>
<text x="143.43" y="625.90" font-size="12.4" font-weight="bold" fill="#000">5</text>
<text x="168.27" y="625.90" font-size="12.4" font-weight="bold" fill="#000">50</text>
<text x="82.14" y="642.60" font-size="12.9" font-weight="bold" fill="#000" >Epo (ng/mL)</text>
<path d="M60.80,563.80 L89.30,563.80 L118.50,533.30 L147.20,512.90 L176.00,491.50" stroke="#000" stroke-width="2.5" fill="none" stroke-linejoin="round"/>
<path d="M60.80,602.30 L89.30,601.50 L118.50,584.20 L147.20,571.90 L176.00,556.10" stroke="#000" stroke-width="2.5" fill="none" stroke-linejoin="round"/>
<path d="M60.80,609.30 L89.30,607.70 L118.50,591.40 L147.20,576.10 L176.00,570.00" stroke="#000" stroke-width="2.5" fill="none" stroke-linejoin="round"/>
<rect x="57.40" y="560.40" width="6.80" height="6.80" fill="#fff" stroke="#000" stroke-width="1.4" />
<rect x="85.90" y="560.40" width="6.80" height="6.80" fill="#fff" stroke="#000" stroke-width="1.4" />
<rect x="115.10" y="529.90" width="6.80" height="6.80" fill="#fff" stroke="#000" stroke-width="1.4" />
<rect x="143.80" y="509.50" width="6.80" height="6.80" fill="#fff" stroke="#000" stroke-width="1.4" />
<rect x="172.60" y="488.10" width="6.80" height="6.80" fill="#fff" stroke="#000" stroke-width="1.4" />
<rect x="57.15" y="598.65" width="7.30" height="7.30" fill="#111" stroke="#000" stroke-width="1.1" />
<rect x="85.65" y="597.85" width="7.30" height="7.30" fill="#111" stroke="#000" stroke-width="1.1" />
<rect x="114.85" y="580.55" width="7.30" height="7.30" fill="#111" stroke="#000" stroke-width="1.1" />
<rect x="143.55" y="568.25" width="7.30" height="7.30" fill="#111" stroke="#000" stroke-width="1.1" />
<rect x="172.35" y="552.45" width="7.30" height="7.30" fill="#111" stroke="#000" stroke-width="1.1" />
<path d="M60.80,605.80 L64.70,612.80 L56.90,612.80 Z" fill="#9a9a9a" stroke="#000" stroke-width="1.1" stroke-linejoin="miter"/>
<path d="M89.30,604.20 L93.20,611.20 L85.40,611.20 Z" fill="#9a9a9a" stroke="#000" stroke-width="1.1" stroke-linejoin="miter"/>
<path d="M118.50,587.90 L122.40,594.90 L114.60,594.90 Z" fill="#9a9a9a" stroke="#000" stroke-width="1.1" stroke-linejoin="miter"/>
<path d="M147.20,572.60 L151.10,579.60 L143.30,579.60 Z" fill="#9a9a9a" stroke="#000" stroke-width="1.1" stroke-linejoin="miter"/>
<path d="M176.00,566.50 L179.90,573.50 L172.10,573.50 Z" fill="#9a9a9a" stroke="#000" stroke-width="1.1" stroke-linejoin="miter"/>
<rect x="68.70" y="458.90" width="6.40" height="6.40" fill="#fff" stroke="#000" stroke-width="1.2" />
<rect x="68.70" y="471.80" width="6.40" height="6.40" fill="#222" stroke="#000" stroke-width="1.1" />
<path d="M72.10,484.00 L76.20,491.40 L68.00,491.40 Z" fill="#9a9a9a" stroke="#000" stroke-width="1.0" stroke-linejoin="miter"/>
<text x="80.68" y="466.50" font-size="12.5" font-weight="bold" font-style="italic" fill="#000" >Icmt</text>
<text x="107.26" y="462.00" font-size="8.0" font-weight="bold" fill="#000" >fl/+</text>
<text x="119.68" y="466.50" font-size="12.5" font-weight="bold" font-style="italic" fill="#000" >K</text>
<text x="129.24" y="462.30" font-size="8.3" font-weight="bold" fill="#000" >LSL</text>
<text x="146.16" y="466.50" font-size="12.5" font-weight="bold" fill="#000" >M</text>
<text x="80.68" y="479.00" font-size="12.5" font-weight="bold" font-style="italic" fill="#000" >Icmt</text>
<text x="107.26" y="474.50" font-size="8.0" font-weight="bold" fill="#000" >fl/fl</text>
<text x="119.68" y="479.00" font-size="12.5" font-weight="bold" font-style="italic" fill="#000" >K</text>
<text x="129.24" y="474.80" font-size="8.3" font-weight="bold" fill="#000" >LSL</text>
<text x="146.16" y="479.00" font-size="12.5" font-weight="bold" fill="#000" >M</text>
<text x="80.39" y="491.90" font-size="12.5" font-weight="bold" fill="#000" >Control</text>
<text x="209.82" y="442.20" font-size="11.6" font-weight="bold" fill="#000" >G</text>
<text x="251.69" y="467.80" font-size="11.8" font-weight="bold" font-style="italic" fill="#000" >K</text>
<text x="261.10" y="463.60" font-size="7.3" font-weight="bold" fill="#000" >G12D</text>
<line x1="218.30" y1="470.60" x2="306.20" y2="470.60" stroke="#000" stroke-width="1.5" stroke-linecap="butt"/>
<text x="232.11" y="481.00" font-size="10.2" font-weight="normal" style="font-family:'Liberation Serif', serif;stroke:none" fill="#222" >Δ/+</text>
<text x="278.21" y="481.20" font-size="10.2" font-weight="normal" style="font-family:'Liberation Serif', serif;stroke:none" fill="#222" >Δ/Δ</text>
<text x="313.69" y="481.00" font-size="10.6" font-weight="bold" fill="#000" >ctrl</text>
<line x1="217.50" y1="483.50" x2="259.40" y2="483.50" stroke="#000" stroke-width="1.5" stroke-linecap="butt"/>
<line x1="266.20" y1="483.50" x2="307.70" y2="483.50" stroke="#000" stroke-width="1.5" stroke-linecap="butt"/>
<line x1="312.70" y1="484.00" x2="331.00" y2="484.00" stroke="#000" stroke-width="1.5" stroke-linecap="butt"/>
<linearGradient id="gg1" x1="0" y1="0" x2="0" y2="1"><stop offset="0" stop-color="#2a2a2a"/><stop offset="1" stop-color="#080808"/></linearGradient>
<rect x="215.50" y="487.30" width="117.40" height="32.90" fill="url(#gg1)" stroke="none" stroke-width="1" />
<linearGradient id="gg2" x1="0" y1="0" x2="0" y2="1"><stop offset="0" stop-color="#303030"/><stop offset="1" stop-color="#262626"/></linearGradient>
<rect x="215.50" y="523.20" width="117.40" height="32.20" fill="url(#gg2)" stroke="none" stroke-width="1" />
<linearGradient id="gg3" x1="0" y1="0" x2="0" y2="1"><stop offset="0" stop-color="#363636"/><stop offset="1" stop-color="#1e1e1e"/></linearGradient>
<rect x="215.50" y="558.60" width="117.40" height="32.60" fill="url(#gg3)" stroke="none" stroke-width="1" />
<rect x="240.00" y="502.00" width="23.00" height="12.00" fill="#444" opacity="0.7" filter="url(#bl3)"/>
<rect x="217.80" y="506.70" width="18.40" height="3.20" rx="1.60" fill="#e6e6e6" opacity="1.0" filter="url(#bl)"/>
<rect x="242.20" y="505.10" width="18.00" height="5.80" rx="2.50" fill="#ffffff" opacity="1.0" filter="url(#bl)"/>
<rect x="312.50" y="493.00" width="19.50" height="22.00" fill="#4a4a4a" opacity="0.9" filter="url(#bl3)"/>
<rect x="313.80" y="497.80" width="17.40" height="3.80" rx="1.90" fill="#dcdcdc" opacity="1.0" filter="url(#bl)"/>
<rect x="313.80" y="506.10" width="17.40" height="4.60" rx="2.30" fill="#fafafa" opacity="1.0" filter="url(#bl)"/>
<rect x="218.20" y="535.40" width="18.00" height="6.20" rx="2.50" fill="#ffffff" opacity="1.0" filter="url(#bl)"/>
<rect x="242.20" y="534.10" width="18.80" height="7.40" rx="2.50" fill="#ffffff" opacity="1.0" filter="url(#bl)"/>
<rect x="267.20" y="535.00" width="17.80" height="6.40" rx="2.50" fill="#ffffff" opacity="1.0" filter="url(#bl)"/>
<rect x="291.20" y="535.40" width="17.40" height="6.00" rx="2.50" fill="#ffffff" opacity="1.0" filter="url(#bl)"/>
<rect x="217.50" y="561.00" width="19.50" height="26.00" fill="#505050" opacity="0.9" filter="url(#bl3)"/>
<rect x="242.00" y="561.00" width="19.50" height="26.00" fill="#505050" opacity="0.9" filter="url(#bl3)"/>
<rect x="266.50" y="561.00" width="19.00" height="26.00" fill="#505050" opacity="0.9" filter="url(#bl3)"/>
<rect x="289.50" y="561.00" width="19.00" height="26.00" fill="#505050" opacity="0.9" filter="url(#bl3)"/>
<rect x="311.50" y="561.00" width="19.00" height="26.00" fill="#505050" opacity="0.9" filter="url(#bl3)"/>
<rect x="266.50" y="561.00" width="19.00" height="9.00" fill="#6a6a6a" opacity="0.8" filter="url(#bl3)"/>
<rect x="311.50" y="566.00" width="19.00" height="9.00" fill="#606060" opacity="0.8" filter="url(#bl3)"/>
<rect x="218.30" y="570.00" width="18.50" height="4.00" rx="2.00" fill="#c0c0c0" opacity="1.0" filter="url(#bl)"/>
<rect x="242.60" y="569.60" width="18.40" height="4.80" rx="2.40" fill="#e0e0e0" opacity="1.0" filter="url(#bl)"/>
<rect x="266.80" y="568.75" width="18.40" height="5.50" rx="2.50" fill="#f4f4f4" opacity="1.0" filter="url(#bl)"/>
<rect x="289.20" y="568.75" width="18.50" height="5.50" rx="2.50" fill="#d8d8d8" opacity="1.0" filter="url(#bl)"/>
<rect x="218.30" y="577.30" width="18.50" height="3.80" rx="1.90" fill="#ececec" opacity="1.0" filter="url(#bl)"/>
<rect x="242.60" y="576.90" width="18.40" height="4.60" rx="2.30" fill="#ffffff" opacity="1.0" filter="url(#bl)"/>
<rect x="266.80" y="576.25" width="18.40" height="5.50" rx="2.50" fill="#ffffff" opacity="1.0" filter="url(#bl)"/>
<rect x="289.20" y="576.10" width="18.50" height="5.80" rx="2.50" fill="#ffffff" opacity="1.0" filter="url(#bl)"/>
<rect x="311.80" y="574.10" width="18.40" height="8.40" rx="2.50" fill="#ffffff" opacity="1.0" filter="url(#bl)"/>
<line x1="333.00" y1="499.60" x2="337.90" y2="499.60" stroke="#000" stroke-width="2.0" stroke-linecap="butt"/>
<line x1="333.00" y1="509.20" x2="337.90" y2="509.20" stroke="#000" stroke-width="2.0" stroke-linecap="butt"/>
<line x1="333.00" y1="540.00" x2="337.90" y2="540.00" stroke="#000" stroke-width="2.0" stroke-linecap="butt"/>
<line x1="333.00" y1="570.50" x2="337.90" y2="570.50" stroke="#000" stroke-width="2.0" stroke-linecap="butt"/>
<line x1="333.00" y1="580.50" x2="337.90" y2="580.50" stroke="#000" stroke-width="2.0" stroke-linecap="butt"/>
<text x="340.22" y="503.30" font-size="10.4" font-weight="bold" font-style="italic" fill="#000" >Icmt</text>
<text x="362.82" y="499.30" font-size="7.8" font-weight="bold" fill="#000" >fl</text>
<text x="339.82" y="513.20" font-size="10.4" font-weight="bold" font-style="italic" fill="#000" >Icmt</text>
<text x="362.23" y="509.20" font-size="7.8" font-weight="bold" fill="#000" >+</text>
<text x="340.02" y="542.80" font-size="10.4" font-weight="bold" font-style="italic" fill="#000" >Icmt</text>
<text x="362.25" y="538.60" font-size="8.0" font-weight="normal" style="font-family:'Liberation Serif', serif;stroke:none" fill="#333" >Δ</text>
<text x="341.32" y="572.60" font-size="10.4" font-weight="bold" font-style="italic" fill="#000" >Kras2</text>
<text x="370.81" y="568.20" font-size="7.6" font-weight="bold" fill="#000" >G12D</text>
<text x="341.02" y="583.60" font-size="10.4" font-weight="bold" font-style="italic" fill="#000" >Kras2</text>
<text x="370.49" y="579.60" font-size="7.8" font-weight="bold" fill="#000" >+</text>
<text x="395.72" y="443.00" font-size="11.6" font-weight="bold" fill="#000" >H</text>
<text x="400.52" y="481.50" font-size="10.6" font-weight="bold" fill="#000" >fl/fl</text>
<text x="444.31" y="481.50" font-size="10.2" font-weight="normal" style="font-family:'Liberation Serif', serif;stroke:none" fill="#222" >Δ/Δ</text>
<line x1="398.60" y1="484.70" x2="419.00" y2="484.70" stroke="#000" stroke-width="1.5" stroke-linecap="butt"/>
<line x1="426.70" y1="484.70" x2="473.80" y2="484.70" stroke="#000" stroke-width="1.5" stroke-linecap="butt"/>
<linearGradient id="gh1" x1="0" y1="0" x2="0" y2="1"><stop offset="0" stop-color="#2e2e2e"/><stop offset="1" stop-color="#262626"/></linearGradient>
<rect x="397.00" y="488.30" width="78.90" height="31.80" fill="url(#gh1)" stroke="none" stroke-width="1" />
<linearGradient id="gh2" x1="0" y1="0" x2="0" y2="1"><stop offset="0" stop-color="#2e2e2e"/><stop offset="1" stop-color="#262626"/></linearGradient>
<rect x="397.00" y="524.90" width="78.90" height="30.70" fill="url(#gh2)" stroke="none" stroke-width="1" />
<linearGradient id="gh3" x1="0" y1="0" x2="0" y2="1"><stop offset="0" stop-color="#2e2e2e"/><stop offset="1" stop-color="#262626"/></linearGradient>
<rect x="397.00" y="560.00" width="78.90" height="31.60" fill="url(#gh3)" stroke="none" stroke-width="1" />
<rect x="399.80" y="498.10" width="19.50" height="7.60" rx="2.50" fill="#ffffff" opacity="1.0" filter="url(#bl)"/>
<rect x="400.00" y="534.00" width="20.00" height="14.00" fill="#444" opacity="0.9" filter="url(#bl3)"/>
<rect x="426.00" y="537.70" width="20.50" height="8.00" rx="2.50" fill="#ffffff" opacity="1.0" filter="url(#bl)"/>
<rect x="453.80" y="538.10" width="18.80" height="6.80" rx="2.50" fill="#f6f6f6" opacity="1.0" filter="url(#bl)"/>
<rect x="400.70" y="562.00" width="19.10" height="22.00" fill="#3c3c3c" opacity="0.9" filter="url(#bl3)"/>
<rect x="400.70" y="573.70" width="19.10" height="6.60" rx="2.50" fill="#fcfcfc" opacity="1.0" filter="url(#bl)"/>
<rect x="426.40" y="562.00" width="19.30" height="22.00" fill="#3c3c3c" opacity="0.9" filter="url(#bl3)"/>
<rect x="426.40" y="573.70" width="19.30" height="6.60" rx="2.50" fill="#fcfcfc" opacity="1.0" filter="url(#bl)"/>
<rect x="451.90" y="562.00" width="19.10" height="22.00" fill="#3c3c3c" opacity="0.9" filter="url(#bl3)"/>
<rect x="451.90" y="573.70" width="19.10" height="6.60" rx="2.50" fill="#fcfcfc" opacity="1.0" filter="url(#bl)"/>
<line x1="476.30" y1="500.90" x2="481.00" y2="500.90" stroke="#000" stroke-width="2.0" stroke-linecap="butt"/>
<line x1="476.30" y1="512.20" x2="481.00" y2="512.20" stroke="#000" stroke-width="2.0" stroke-linecap="butt"/>
<line x1="476.30" y1="541.20" x2="481.00" y2="541.20" stroke="#000" stroke-width="2.0" stroke-linecap="butt"/>
<line x1="476.30" y1="577.20" x2="481.00" y2="577.20" stroke="#000" stroke-width="2.0" stroke-linecap="butt"/>
<text x="484.62" y="504.30" font-size="10.4" font-weight="bold" font-style="italic" fill="#000" >Icmt</text>
<text x="507.22" y="500.30" font-size="7.8" font-weight="bold" fill="#000" >fl</text>
<text x="484.42" y="515.00" font-size="10.4" font-weight="bold" font-style="italic" fill="#000" >Icmt</text>
<text x="506.83" y="511.00" font-size="7.8" font-weight="bold" fill="#000" >+</text>
<text x="484.62" y="543.60" font-size="10.4" font-weight="bold" font-style="italic" fill="#000" >Icmt</text>
<text x="506.85" y="539.40" font-size="8.0" font-weight="normal" style="font-family:'Liberation Serif', serif;stroke:none" fill="#333" >Δ</text>
<text x="485.02" y="579.60" font-size="10.4" font-weight="bold" font-style="italic" fill="#000" >Kras2</text>
<text x="514.49" y="575.60" font-size="7.8" font-weight="bold" fill="#000" >+</text>
</svg>
</body></html>
